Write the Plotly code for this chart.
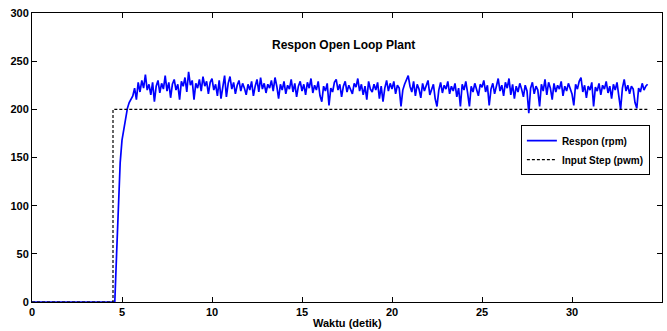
import numpy as np
import plotly.graph_objects as go

# Input step (pwm)
step_time = [0.0, 4.5, 4.5, 34.3]
step_vals = [0, 0, 200, 200]

# Response (rpm): zero until 4.5 s, then sampled every 0.1 s from 4.6 s
resp_start_time = [0.0, 4.5]
resp_start_vals = [0, 0]
resp_vals = [
    0, 50, 100, 145, 168, 180, 192, 201, 207, 211,
    214, 222, 210, 228,
    218, 230, 222, 236, 220, 226, 215, 228, 208, 224,
    230, 217, 227, 221, 235, 219, 228, 212, 226, 231,
    220, 226, 210, 229, 224, 233, 218, 239, 225, 230,
    210, 227, 222, 231, 219, 234, 224, 229, 216, 228,
    232, 220, 226, 214, 230, 211, 225, 235, 213, 227,
    234, 221, 228, 216, 225, 230, 219, 227, 222, 215,
    226, 220, 229, 214, 224, 231, 218, 233, 221, 227,
    217, 226, 222, 230, 219, 233, 224, 211, 226, 220,
    229, 216, 225, 221, 231, 218, 227, 213, 224, 229,
    219, 226, 215, 228, 222, 232, 217, 225, 220, 229,
    214, 208, 224, 219, 227, 204, 222, 218, 228, 231,
    220, 226, 213, 224, 229, 218, 225, 221, 216, 227,
    223, 232, 219, 226, 215, 224, 210, 229, 221, 218,
    226, 220, 228, 211, 224, 208, 222, 230, 219, 227,
    221, 229, 216, 225, 222, 203, 220, 226, 231, 235,
    224, 218, 229, 214, 226, 221, 212, 227, 219, 224,
    230, 215, 222, 226, 211, 203, 220, 228, 217, 225,
    221, 229, 216, 224, 219, 227, 213, 222, 203, 226,
    220, 229, 217, 203, 224, 218, 227, 221, 214, 226,
    223, 230, 218, 225, 204, 221, 227, 216, 224, 232,
    219, 225, 214, 228, 222, 232, 215, 226, 211, 224,
    218, 227, 221, 213, 225, 219, 196, 222, 228, 216,
    224, 220, 203, 226, 219, 231, 215, 228, 222, 210,
    227, 218, 225, 221, 229, 214, 224, 219, 227, 222,
    216, 204, 226, 221, 229, 233, 218, 225, 212, 224,
    220, 228, 203, 223, 219, 227, 215, 225, 221, 229,
    217, 224, 211, 226, 220, 228, 214, 200, 222, 231,
    219, 225, 216, 224, 221, 207, 201, 222, 218, 227,
    220, 224, 226,
]
resp_time = resp_start_time + list(np.round(4.6 + 0.1 * np.arange(len(resp_vals)), 2))
resp_all = resp_start_vals + resp_vals

x_ticks = [0, 5, 10, 15, 20, 25, 30, 35]
y_ticks = [0, 50, 100, 150, 200, 250, 300]

FONT = "Liberation Sans, Arial, sans-serif"

fig = go.Figure()
fig.add_trace(go.Scatter(x=resp_time, y=resp_all, mode="lines", name="Respon (rpm)",
                         line=dict(color="#0000FF", width=1.7)))
fig.add_trace(go.Scatter(x=step_time, y=step_vals, mode="lines", name="Input Step (pwm)",
                         line=dict(color="black", width=1.2, dash="3px,2px")))

axis_common = dict(showline=True, linecolor="black", linewidth=1, mirror="ticks",
                   ticks="inside", ticklen=5, tickcolor="black", showgrid=False,
                   zeroline=False, tickfont=dict(family=FONT, size=11, color="black", weight="bold"))

fig.update_layout(
    width=667, height=331,
    margin=dict(l=32, r=5, t=13, b=29),
    plot_bgcolor="white", paper_bgcolor="white",
    xaxis=dict(range=[0, 35], tickvals=x_ticks, **axis_common),
    yaxis=dict(range=[0, 300], tickvals=y_ticks, **axis_common),
    showlegend=True,
    legend=dict(x=0.776, y=0.612, xanchor="left", yanchor="top",
                bordercolor="black", borderwidth=1, bgcolor="white",
                font=dict(family=FONT, size=10, color="black", weight="bold"),
                itemwidth=30, tracegroupgap=0),
    annotations=[
        dict(text="Respon Open Loop Plant", x=17.3, y=267, xref="x", yref="y",
             showarrow=False, font=dict(family=FONT, size=12, color="black", weight="bold")),
        dict(text="Waktu (detik)", x=0.5, y=0, xref="paper", yref="paper",
             yanchor="middle", yshift=-21, showarrow=False,
             font=dict(family=FONT, size=11, color="black", weight="bold")),
    ],
)

fig.write_html("out.html", config={"displayModeBar": False},
               post_script="document.body.style.margin='0';document.body.style.padding='0';document.body.style.overflow='hidden';")
